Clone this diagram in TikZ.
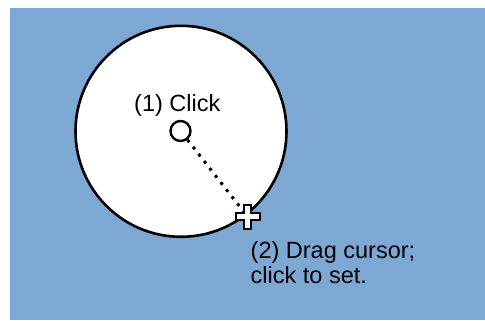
\documentclass[tikz,border=0pt]{standalone}
\usepackage{fontspec}
\setmainfont{Liberation Sans}
\definecolor{bgblue}{RGB}{125,168,212}
\begin{document}
\begin{tikzpicture}[x=1pt,y=-1pt,
  label/.style={font=\fontsize{23.5}{25.5}\selectfont, inner sep=0pt, align=left},
  ring/.style={circle, draw=black, fill=white, line width=2.6pt, inner sep=0pt},
  dotline/.style={line width=3pt, dash pattern=on 3pt off 6pt, black},
  crossshape/.style={draw=black, fill=white, line width=2pt, line join=miter}]
\useasboundingbox (0,0) rectangle (485,321);
\fill[bgblue] (10,8) rectangle (485,320);
\node[ring, minimum size=211pt] (area) at (181,131.3) {};
\node[ring, minimum size=20pt, line width=2.4pt] (start) at (180.5,131) {};
\coordinate (cursor) at (247.5,216.5);
\draw[dotline] (start) -- (cursor);
\draw[crossshape, shift={(cursor)}]
  (-3.6,-12) -- (3.6,-12) -- (3.6,-3.6) -- (12,-3.6) -- (12,3.6) -- (3.6,3.6)
  -- (3.6,12) -- (-3.6,12) -- (-3.6,3.6) -- (-12,3.6) -- (-12,-3.6) -- (-3.6,-3.6) -- cycle;
\node[label, anchor=base west] (clicklbl) at (134,111.7) {(1) Click};
\node[label, anchor=base west] (draglbl) at (250.5,283.8) {(2) Drag cursor;\\click to set.};
\end{tikzpicture}
\end{document}
